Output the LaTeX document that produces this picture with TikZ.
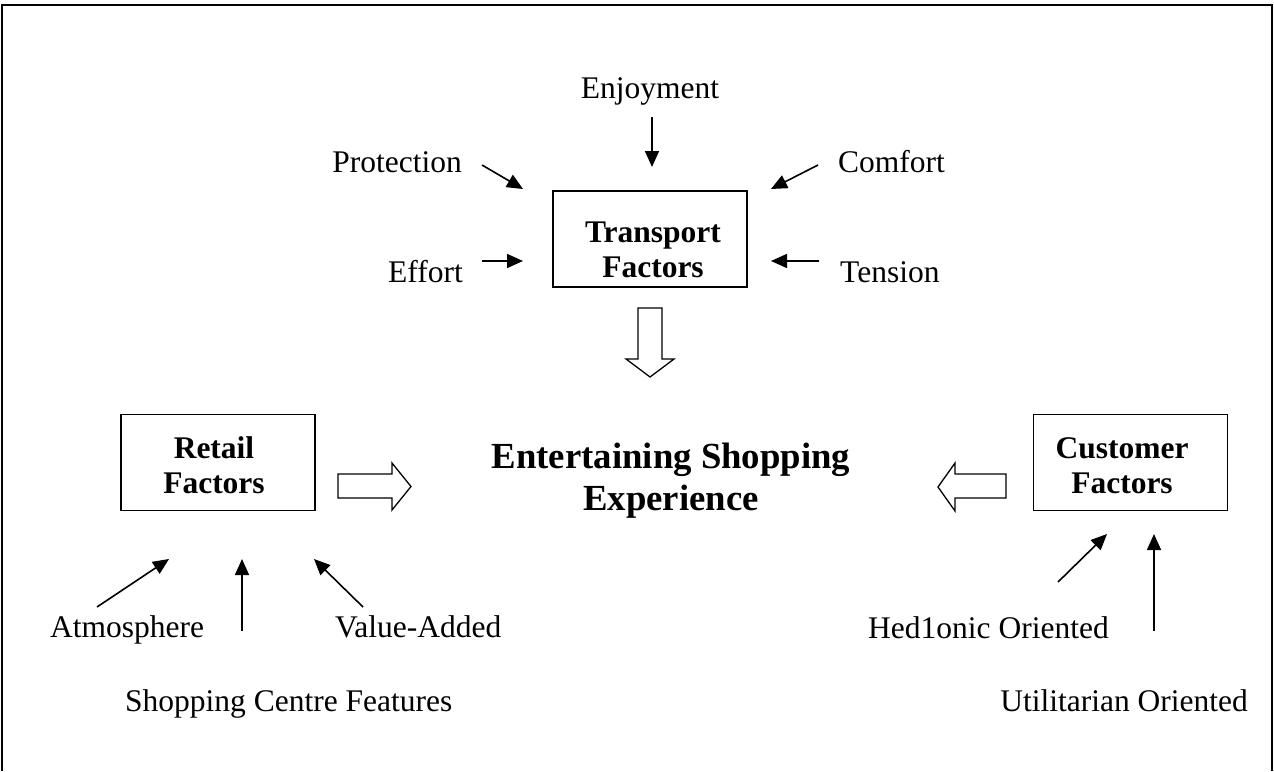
\documentclass[tikz,border=0pt]{standalone}
\usepackage{fontspec}
\setmainfont{Liberation Serif}
\usetikzlibrary{arrows.meta}
\newcommand\lblfont{\fontsize{31.5}{35}\selectfont}
\newcommand\headfont{\fontsize{36.75}{42}\selectfont\bfseries}
\tikzset{
  lbl/.style={inner sep=0pt, font=\lblfont},
  boxlbl/.style={inner sep=0pt, font=\lblfont\bfseries, align=center},
  factorbox/.style={draw, line width=1.6pt, minimum width=194pt, minimum height=96pt, inner sep=0pt},
  inarrow/.style={line width=1.6pt, -{Triangle[length=16pt,width=14pt]}},
  blockarrow/.style={line width=1.3pt, fill=white, line join=miter}
}
\begin{document}
\begin{tikzpicture}[x=1pt, y=-1pt]
  \useasboundingbox (0,0) rectangle (1274,771);
  \draw [line width=2pt] (2,771) -- (2,5) -- (1272,5) -- (1272,771);

  % transport factors
  \node [factorbox] (transport) at (650,239) {};
  \node [boxlbl, anchor=base] (transportlbl) at (653,277) {Transport\\Factors};
  \node [lbl, anchor=base] (enjoy) at (650,98) {Enjoyment};
  \node [lbl, anchor=base east] (protect) at (462,172) {Protection};
  \node [lbl, anchor=base east] (effort) at (463,282) {Effort};
  \node [lbl, anchor=base west] (comfort) at (838,172) {Comfort};
  \node [lbl, anchor=base west] (tension) at (840,282) {Tension};
  \coordinate (enjoyS) at (652,117);   \coordinate (enjoyE) at (652,167);
  \coordinate (protectS) at (482,165); \coordinate (protectE) at (523,189);
  \coordinate (effortS) at (482,261);  \coordinate (effortE) at (523,261);
  \coordinate (comfortS) at (818,165); \coordinate (comfortE) at (771,189);
  \coordinate (tensionS) at (819,261); \coordinate (tensionE) at (771,261);
  \draw [inarrow] (enjoyS) -- (enjoyE);
  \draw [inarrow] (protectS) -- (protectE);
  \draw [inarrow] (effortS) -- (effortE);
  \draw [inarrow] (comfortS) -- (comfortE);
  \draw [inarrow] (tensionS) -- (tensionE);
  \draw [blockarrow] (638,308) -- (662,308) -- (662,359) -- (674,359) -- (650,377)
    -- (626,359) -- (638,359) -- cycle;

  % centre
  \node [inner sep=0pt, font=\headfont, align=center, anchor=base] (experience)
    at (671,510) {Entertaining Shopping\\Experience};

  % retail factors
  \node [factorbox] (retail) at (218,462.5) {};
  \node [boxlbl, anchor=base] (retaillbl) at (214,493) {Retail\\Factors};
  \draw [blockarrow] (338,474) -- (392,474) -- (392,463) -- (411,486.5) -- (392,510)
    -- (392,498) -- (338,498) -- cycle;
  \node [lbl, anchor=base west] (atmos) at (50,637) {Atmosphere};
  \node [lbl, anchor=base west] (value) at (335,637) {Value-Added};
  \node [lbl, anchor=base west] (centre) at (125,711) {Shopping Centre Features};
  \coordinate (atmosS) at (97,607);   \coordinate (atmosE) at (169,559);
  \coordinate (centreS) at (242,631); \coordinate (centreE) at (242,559);
  \coordinate (valueS) at (363,607);  \coordinate (valueE) at (314,559);
  \draw [inarrow] (atmosS) -- (atmosE);
  \draw [inarrow] (centreS) -- (centreE);
  \draw [inarrow] (valueS) -- (valueE);

  % customer factors
  \node [factorbox] (customer) at (1130.5,462.5) {};
  \node [boxlbl, anchor=base] (customerlbl) at (1122,493) {Customer\\Factors};
  \draw [blockarrow] (1006,474) -- (955,474) -- (955,463) -- (938,487) -- (955,511)
    -- (955,498) -- (1006,498) -- cycle;
  \node [lbl, anchor=base west] (hedonic) at (868,638) {Hed1onic Oriented};
  \node [lbl, anchor=base east] (utility) at (1248,711) {Utilitarian Oriented};
  \coordinate (hedonicS) at (1058,582); \coordinate (hedonicE) at (1107,534);
  \coordinate (utilityS) at (1154,631); \coordinate (utilityE) at (1154,534);
  \draw [inarrow] (hedonicS) -- (hedonicE);
  \draw [inarrow] (utilityS) -- (utilityE);
\end{tikzpicture}
\end{document}
